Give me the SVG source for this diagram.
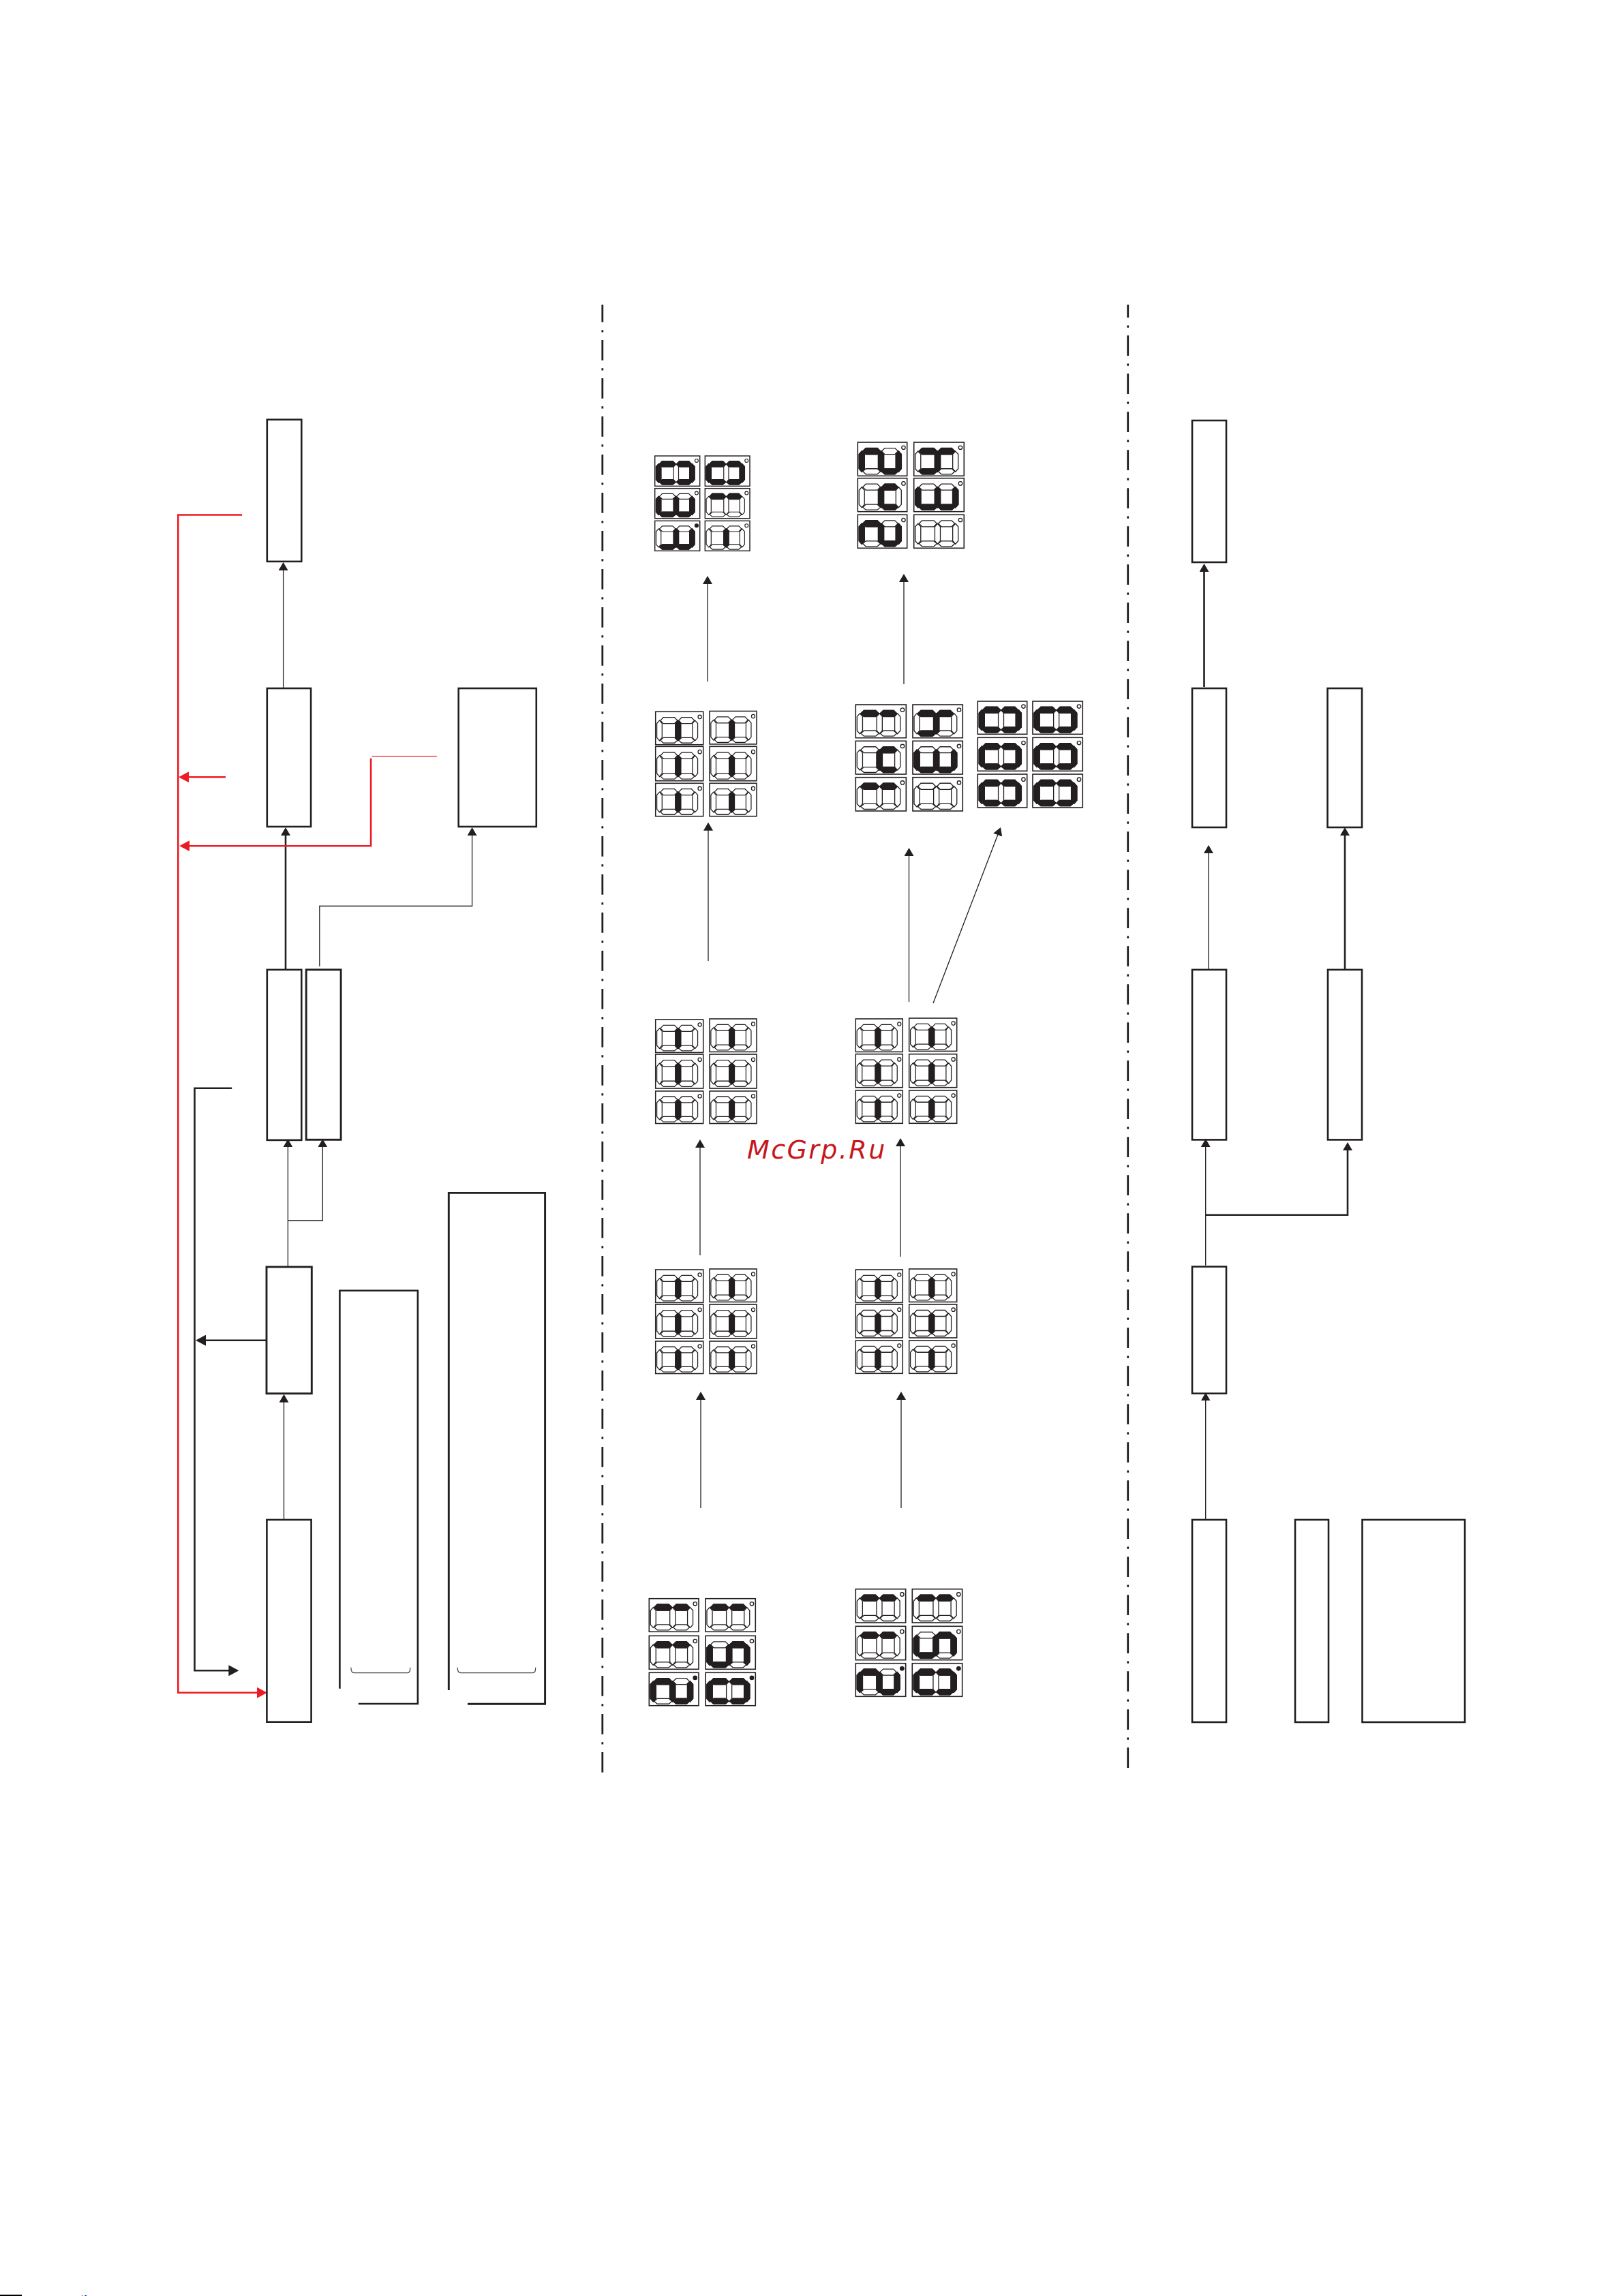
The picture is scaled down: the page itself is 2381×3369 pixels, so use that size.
<svg xmlns="http://www.w3.org/2000/svg" width="2381" height="3369" viewBox="0 0 2381 3369">
<style>
.box{fill:none;stroke:#231f20;stroke-width:2.6}
.heavy{stroke-width:2.9}
.k{fill:none;stroke:#231f20;stroke-width:1.3}
.k2{fill:none;stroke:#231f20;stroke-width:2.6}
.r{fill:none;stroke:#ed1c24;stroke-width:2.6}
.r1{fill:none;stroke:#ed1c24;stroke-width:1.2}
.a{marker-end:url(#ah)}
.b{marker-end:url(#ahb)}
.c{marker-end:url(#ahr)}
.dd{fill:none;stroke:#231f20;stroke-width:2.8;stroke-dasharray:29.7 11.5 3.3 11.5}
.seg{fill:#fff;stroke:#231f20;stroke-width:1.3}
.on{fill:#231f20;stroke:#231f20;stroke-width:1.6}
.frame{fill:#fff;stroke:#231f20;stroke-width:1.6}
.led{fill:#fff;stroke:#231f20;stroke-width:1.3}
.ledon{fill:#231f20}
.wm{font-family:"DejaVu Sans",sans-serif;font-style:oblique;font-size:38px;letter-spacing:2.4px;fill:#c8161d}
</style>
<defs>
<marker id="ah" viewBox="0 0 12 14" refX="2" refY="7" markerWidth="12" markerHeight="14" markerUnits="userSpaceOnUse" orient="auto"><path d="M0 0L12 7L0 14z" fill="#231f20"/></marker>
<marker id="ahb" viewBox="0 0 15 16" refX="2" refY="8" markerWidth="15" markerHeight="16" markerUnits="userSpaceOnUse" orient="auto"><path d="M0 0L15 8L0 16z" fill="#231f20"/></marker>
<marker id="ahr" viewBox="0 0 15 16" refX="2" refY="8" markerWidth="15" markerHeight="16" markerUnits="userSpaceOnUse" orient="auto"><path d="M0 0L15 8L0 16z" fill="#ed1c24"/></marker>
<polygon id="l" points="6,13 10,17.5 10,38.5 6,43 2,38.5 2,17.5"/>
<polygon id="c" points="34.5,13 38.5,17.5 38.5,38.5 34.5,43 30.5,38.5 30.5,17.5"/>
<polygon id="r" points="60.5,13 64.5,17.5 64.5,38.5 60.5,43 56.5,38.5 56.5,17.5"/>
<polygon id="t1" points="7.5,13 12,8.5 29,8.5 33.5,13 29,17.5 12,17.5"/>
<polygon id="t2" points="35.5,13 40,8.5 55,8.5 59.5,13 55,17.5 40,17.5"/>
<polygon id="b1" points="7.5,42.5 12,38.5 29,38.5 33.5,42.5 29,46.5 12,46.5"/>
<polygon id="b2" points="35.5,42.5 40,38.5 55,38.5 59.5,42.5 55,46.5 40,46.5"/>
<circle id="dot" class="ledon" cx="67.7" cy="7.7" r="3"/>
<g id="p">
<rect class="frame" x="0" y="0" width="73" height="49"/>
<circle class="led" cx="67.7" cy="7.7" r="2.7"/>
<g class="seg"><use href="#l"/><use href="#c"/><use href="#r"/><use href="#t1"/><use href="#t2"/><use href="#b1"/><use href="#b2"/></g>
</g>
<g id="m0"><use href="#p"/></g>
<g id="mc"><use href="#p"/><g class="on"><use href="#c"/></g></g>
<g id="mtt"><use href="#p"/><g class="on"><use href="#t1"/><use href="#t2"/></g></g>
<g id="mfull"><use href="#p"/><g class="on"><use href="#l"/><use href="#r"/><use href="#t1"/><use href="#t2"/><use href="#b1"/><use href="#b2"/></g></g>
<g id="mlcrb"><use href="#p"/><g class="on"><use href="#l"/><use href="#c"/><use href="#r"/><use href="#b1"/><use href="#b2"/></g></g>
<g id="mcrb"><use href="#p"/><g class="on"><use href="#c"/><use href="#r"/><use href="#b1"/><use href="#b2"/></g></g>
<g id="mlcrtB"><use href="#p"/><g class="on"><use href="#l"/><use href="#c"/><use href="#r"/><use href="#t1"/><use href="#b2"/></g></g>
<g id="mctb"><use href="#p"/><g class="on"><use href="#c"/><use href="#t1"/><use href="#t2"/><use href="#b1"/></g></g>
<g id="mcTB"><use href="#p"/><g class="on"><use href="#c"/><use href="#t2"/><use href="#b2"/></g></g>
<g id="mlcrTb"><use href="#p"/><g class="on"><use href="#l"/><use href="#c"/><use href="#r"/><use href="#t2"/><use href="#b1"/></g></g>
</defs>
<rect x="0" y="0" width="2381" height="3369" fill="#fff"/>

<g id="connectors">
<path class="k a" d="M415.6 1009.6V835"/>
<path class="k2 a" d="M419 1422V1224"/>
<path class="k a" d="M468.8 1418V1329.5H692.6V1224"/>
<path class="k a" d="M422.4 1858.6V1681.3"/>
<path class="k a" d="M422.4 1791H473.3V1681.3"/>
<path class="k a" d="M416.5 2230V2055.8"/>
<path class="k2 b" d="M391 1966.7H300"/>
<path class="k2 b" d="M340.2 1596.8H285.5V2451.3H337.4"/>
<path class="r c" d="M355.1 755.5H261.3V2483.7H378.9"/>
<path class="r c" d="M331 1140.2H275"/>
<path class="r c" d="M544.1 1112.7V1241.2H276.2"/>
<path class="r1" d="M545.7 1109.6H641"/>
<path class="k2 a" d="M1766.5 1008V837"/>
<path class="k a" d="M1773 1422V1250"/>
<path class="k2 a" d="M1973 1422V1224"/>
<path class="k a" d="M1768.7 1856.8V1681"/>
<path class="k2 a" d="M1768.7 1782.7H1977V1686"/>
<path class="k a" d="M1768.7 2230V2053.4"/>
<path class="k a" d="M1038 1000V855"/>
<path class="k a" d="M1039 1410V1216.7"/>
<path class="k a" d="M1027 1842V1682"/>
<path class="k a" d="M1028 2213V2052"/>
<path class="k a" d="M1326 1004V852"/>
<path class="k a" d="M1333.5 1470V1254"/>
<path class="k a" d="M1369 1472L1464.4 1223.3"/>
<path class="k a" d="M1321 1844V1680"/>
<path class="k a" d="M1322 2213V2052"/>
</g>

<g id="dividers">
<path class="dd" d="M883.8 2600.7V447"/>
<path class="dd" d="M1654.7 2594V447"/>
</g>

<g id="box-l1"><rect class="box" x="391.8" y="615.7" width="50.5" height="208.2"/></g>
<g id="box-l2"><rect class="box" x="391.8" y="1010" width="64.3" height="203"/></g>
<g id="box-l3"><rect class="box" x="672.7" y="1010" width="114.1" height="203"/></g>
<g id="box-l4"><rect class="box" x="391.8" y="1422.9" width="50.5" height="250"/></g>
<g id="box-l5"><rect class="box heavy" x="449.2" y="1422.9" width="50.9" height="249.4"/></g>
<g id="box-l6"><rect class="box heavy" x="391" y="1859" width="66.3" height="185.8"/></g>
<g id="box-l7"><rect class="box" x="391.4" y="2230" width="65.2" height="296.7"/></g>
<g id="box-l8"><path class="box" d="M498.4 2477.7V1893.8H612.9V2500H525.8"/><path d="M515 2446.7v2q.5 6 5 6h77q4.7 0 4.7-6v-2" fill="none" stroke="#444" stroke-width="1.2"/></g>
<g id="box-l9"><path class="box heavy" d="M658.3 2480V1750.4H799.6V2500.3H686"/><path d="M671.3 2446.7v2q.5 6 5 6h104.5q4.8 0 4.8-6v-2" fill="none" stroke="#444" stroke-width="1.2"/></g>

<g id="box-r1"><rect class="box" x="1749" y="617" width="50" height="208"/></g>
<g id="box-r2"><rect class="box" x="1749" y="1010" width="50" height="204"/></g>
<g id="box-r3"><rect class="box" x="1947.5" y="1010" width="50.5" height="204"/></g>
<g id="box-r4"><rect class="box" x="1749" y="1422.9" width="50" height="249.5"/></g>
<g id="box-r5"><rect class="box" x="1948" y="1422.9" width="50" height="249.5"/></g>
<g id="box-r6"><rect class="box" x="1749" y="1858.6" width="50" height="186.1"/></g>
<g id="box-r7"><rect class="box" x="1749" y="2230" width="50" height="297"/></g>
<g id="box-r8"><rect class="box" x="1900" y="2230" width="49" height="297"/></g>
<g id="box-r9"><rect class="box" x="1998.5" y="2230" width="150.5" height="297"/></g>

<g id="display-1">
<use href="#mfull" transform="translate(960.7 669) scale(.904 .904)"/>
<use href="#mfull" transform="translate(1034.3 669) scale(.9 .904)"/>
<use href="#mlcrb" transform="translate(960.7 716.7) scale(.904 .898)"/>
<use href="#mtt" transform="translate(1034.3 716.7) scale(.9 .898)"/>
<g transform="translate(960.7 764.3) scale(.904 .898)"><use href="#mcrb"/><use href="#dot"/></g>
<use href="#mc" transform="translate(1034.3 764.3) scale(.9 .898)"/>
</g>
<g id="display-2">
<use href="#mlcrtB" transform="translate(1258.3 649) scale(.992 1.006)"/>
<use href="#mctb" transform="translate(1340.7 649) scale(1.008 1.006)"/>
<use href="#mcTB" transform="translate(1258.3 701.7) scale(.992 1)"/>
<use href="#mlcrb" transform="translate(1340.7 701.7) scale(1.008 1)"/>
<use href="#mlcrtB" transform="translate(1258.3 755.3) scale(.992 1)"/>
<use href="#m0" transform="translate(1340.7 755.3) scale(1.008 1)"/>
</g>
<g id="display-3">
<use href="#mc" transform="translate(961.7 1044.3) scale(.959 .988)"/>
<use href="#mc" transform="translate(1041 1043.5) scale(.945 .988)"/>
<use href="#mc" transform="translate(961.7 1095.3) scale(.959 1.029)"/>
<use href="#mc" transform="translate(1041 1095.3) scale(.945 1.029)"/>
<use href="#mc" transform="translate(961.7 1149.3) scale(.959 .988)"/>
<use href="#mc" transform="translate(1041 1149.3) scale(.945 .988)"/>
</g>
<g id="display-4">
<use href="#mtt" transform="translate(1255.3 1034) scale(1.014 .994)"/>
<use href="#mctb" transform="translate(1339 1034) scale(1.004 .994)"/>
<use href="#mcTB" transform="translate(1255.3 1087.3) scale(1.014 .994)"/>
<use href="#mlcrb" transform="translate(1339 1087.3) scale(1.004 .994)"/>
<use href="#mtt" transform="translate(1255.3 1140.7) scale(1.014 1.006)"/>
<use href="#m0" transform="translate(1339 1140.7) scale(1.004 1.006)"/>
</g>
<g id="display-5">
<use href="#mfull" transform="translate(1434.3 1029) scale(.992 .986)"/>
<use href="#mfull" transform="translate(1515 1029) scale(1.004 .986)"/>
<use href="#mfull" transform="translate(1434.3 1082.3) scale(.992 1)"/>
<use href="#mfull" transform="translate(1515 1082.3) scale(1.004 1)"/>
<use href="#mfull" transform="translate(1434.3 1136) scale(.992 1)"/>
<use href="#mfull" transform="translate(1515 1136) scale(1.004 1)"/>
</g>
<g id="display-6">
<use href="#mc" transform="translate(961.7 1496) scale(.959 .988)"/>
<use href="#mc" transform="translate(1041 1495) scale(.945 .988)"/>
<use href="#mc" transform="translate(961.7 1547) scale(.959 1.02)"/>
<use href="#mc" transform="translate(1041 1547) scale(.945 1.02)"/>
<use href="#mc" transform="translate(961.7 1601) scale(.959 .97)"/>
<use href="#mc" transform="translate(1041 1601) scale(.945 .97)"/>
</g>
<g id="display-7">
<use href="#mc" transform="translate(1255.3 1495) scale(.945 .988)"/>
<use href="#mc" transform="translate(1333.7 1494) scale(.959 .988)"/>
<use href="#mc" transform="translate(1255.3 1546.7) scale(.945 1)"/>
<use href="#mc" transform="translate(1333.7 1546.7) scale(.959 1)"/>
<use href="#mc" transform="translate(1255.3 1600) scale(.945 .986)"/>
<use href="#mc" transform="translate(1333.7 1600) scale(.959 .986)"/>
</g>
<g id="display-8">
<use href="#mc" transform="translate(961.7 1863) scale(.959 .988)"/>
<use href="#mc" transform="translate(1041 1862) scale(.945 .988)"/>
<use href="#mc" transform="translate(961.7 1914) scale(.959 1.02)"/>
<use href="#mc" transform="translate(1041 1914) scale(.945 1.02)"/>
<use href="#mc" transform="translate(961.7 1968) scale(.959 .97)"/>
<use href="#mc" transform="translate(1041 1968) scale(.945 .97)"/>
</g>
<g id="display-9">
<use href="#mc" transform="translate(1255.3 1863) scale(.945 .988)"/>
<use href="#mc" transform="translate(1333.7 1862) scale(.959 .988)"/>
<use href="#mc" transform="translate(1255.3 1914) scale(.945 1)"/>
<use href="#mc" transform="translate(1333.7 1914) scale(.959 1)"/>
<use href="#mc" transform="translate(1255.3 1967) scale(.945 .986)"/>
<use href="#mc" transform="translate(1333.7 1967) scale(.959 .986)"/>
</g>
<g id="display-10">
<use href="#mtt" transform="translate(952.3 2345.7) scale(.996 .992)"/>
<use href="#mtt" transform="translate(1035 2345.7) scale(1.004 .992)"/>
<use href="#mtt" transform="translate(952.3 2400.3) scale(.996 1)"/>
<use href="#mlcrTb" transform="translate(1035 2400.3) scale(1.004 1)"/>
<g transform="translate(952.3 2454.3) scale(.996 .988)"><use href="#mlcrtB"/><use href="#dot"/></g>
<g transform="translate(1035 2454.3) scale(1.004 .988)"><use href="#mfull"/><use href="#dot"/></g>
</g>
<g id="display-11">
<use href="#mtt" transform="translate(1255.3 2331.7) scale(1.005 1.006)"/>
<use href="#mtt" transform="translate(1338.3 2331.7) scale(1.005 1.006)"/>
<use href="#mtt" transform="translate(1255.3 2386.3) scale(1.005 1.008)"/>
<use href="#mlcrTb" transform="translate(1338.3 2386.3) scale(1.005 1.008)"/>
<g transform="translate(1255.3 2440.7) scale(1.005 .992)"><use href="#mlcrtB"/><use href="#dot"/></g>
<g transform="translate(1338.3 2440.7) scale(1.005 .992)"><use href="#mfull"/><use href="#dot"/></g>
</g>

<text class="wm" x="1096" y="1700">McGrp.Ru</text>
<rect x="0" y="3367" width="32" height="2" fill="#000"/>
<rect x="120" y="3368" width="1" height="1" fill="#000"/>
<rect x="124" y="3368" width="2" height="1" fill="#0a6"/>
<rect x="125" y="3368" width="2" height="1" fill="#00d"/>
</svg>
